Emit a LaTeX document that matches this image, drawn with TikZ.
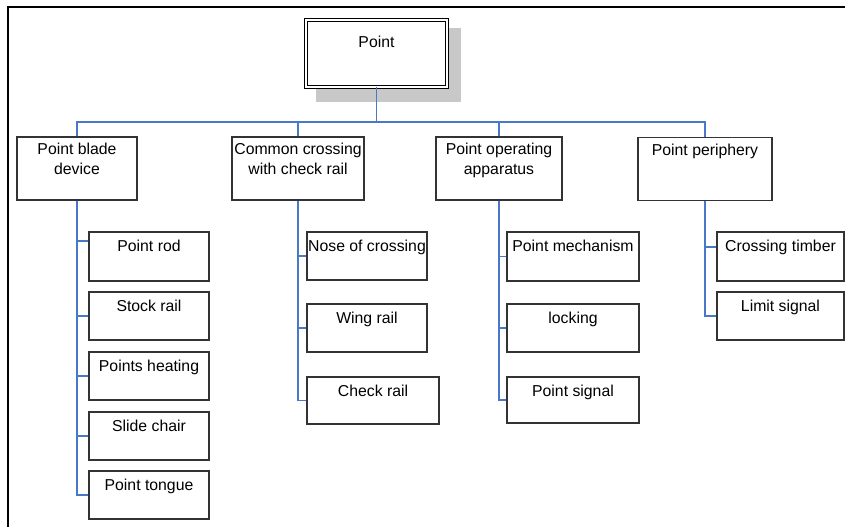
\documentclass[tikz,border=0pt]{standalone}
\usepackage{fontspec}
\setmainfont{Liberation Sans}
\definecolor{conncol}{HTML}{4A78C8}
\definecolor{boxcol}{HTML}{333333}
\definecolor{shadowcol}{HTML}{C8C8C8}
\tikzset{
  box/.style={draw=boxcol, line width=1.1pt, fill=white, inner sep=0pt, minimum width=#1},
  txt/.style={anchor=north, inner sep=0pt, align=center, font=\fontsize{15.8}{19.5}\selectfont},
  conn/.style={draw=conncol, line width=1.1pt},
  frame/.style={draw=black, line width=2pt},
}
\begin{document}
\begin{tikzpicture}[x=1pt,y=-1pt]
\useasboundingbox (0,0) rectangle (845,527);
% frame
\draw[frame] (845,7) -- (8,7) -- (8,527);
% top node with shadow
\fill[shadowcol] (316,28) rectangle (461,102);
\node[draw=black, line width=0.8pt, double, double distance=1.6pt, fill=white, inner sep=0pt,
      minimum width=141, minimum height=67,
      label={[txt, yshift=-16.5pt]north:Point}] (pt) at (376.5,53.5) {};
% level 1
\node[box=120, minimum height=63, label={[txt, yshift=-6.5pt]north:Point blade\\device}] (pb) at (77,168.5) {};
\node[box=132, minimum height=63, label={[txt, yshift=-6.5pt]north:Common crossing\\with check rail}] (cc) at (298,168.5) {};
\node[box=126, minimum height=63, label={[txt, yshift=-6.5pt]north:Point operating\\apparatus}] (po) at (499,168.5) {};
\node[box=134, minimum height=63, label={[txt, yshift=-6.5pt]north:Point periphery}] (pp) at (705,169) {};
% Point blade children
\node[box=120, minimum height=49, label={[txt, yshift=-8.5pt]north:Point rod}] (prod) at (149,256.5) {};
\node[box=120, minimum height=48, label={[txt, yshift=-8.5pt]north:Stock rail}] (sr) at (149,316) {};
\node[box=120, minimum height=48, label={[txt, yshift=-8.5pt]north:Points heating}] (ph) at (149,376) {};
\node[box=120, minimum height=48, label={[txt, yshift=-8.5pt]north:Slide chair}] (sc) at (149,436) {};
\node[box=120, minimum height=48, label={[txt, yshift=-8.5pt]north:Point tongue}] (ptg) at (149,495) {};
% Common crossing children
\node[box=120, minimum height=48, label={[txt, yshift=-8.5pt]north:Nose of crossing}] (nose) at (367,256) {};
\node[box=120, minimum height=48, label={[txt, yshift=-8.5pt]north:Wing rail}] (wing) at (367,328) {};
\node[box=132, minimum height=47, label={[txt, yshift=-8.5pt]north:Check rail}] (chk) at (373,400.5) {};
% Point operating children
\node[box=132, minimum height=49, label={[txt, yshift=-8.5pt]north:Point mechanism}] (pm) at (573,256.5) {};
\node[box=132, minimum height=48, label={[txt, yshift=-8.5pt]north:locking}] (lock) at (573,328) {};
\node[box=132, minimum height=46, label={[txt, yshift=-8.5pt]north:Point signal}] (ps) at (573,400) {};
% Point periphery children
\node[box=127, minimum height=49, label={[txt, yshift=-8.5pt]north:Crossing timber}] (ct) at (780.5,256.5) {};
\node[box=127, minimum height=48, label={[txt, yshift=-8.5pt]north:Limit signal}] (ls) at (780.5,316) {};
% connectors: top bus
\coordinate (bus) at (376.5,122);
\draw[conn] (pt.south) -- (bus);
\draw[conn] (pb.north) |- (bus) -| (pp.north);
\draw[conn] (cc.north) -- (cc.north |- bus);
\draw[conn] (po.north) -- (po.north |- bus);
% Point blade branch
\coordinate (prodin) at ([yshift=15.5pt]prod.west);
\draw[conn] (pb.south) |- (ptg.west);
\draw[conn] (pb.south |- prodin) -- (prodin);
\draw[conn] (pb.south |- sr.west) -- (sr.west);
\draw[conn] (pb.south |- ph.west) -- (ph.west);
\draw[conn] (pb.south |- sc.west) -- (sc.west);
% Common crossing branch
\draw[conn] (cc.south) |- (chk.west);
\draw[conn] (cc.south |- nose.west) -- (nose.west);
\draw[conn] (cc.south |- wing.west) -- (wing.west);
% Point operating branch
\draw[conn] (po.south) |- (ps.west);
\draw[conn] (po.south |- pm.west) -- (pm.west);
\draw[conn] (po.south |- lock.west) -- (lock.west);
% Point periphery branch
\coordinate (ctin) at ([yshift=9.5pt]ct.west);
\draw[conn] (pp.south) |- (ls.west);
\draw[conn] (pp.south |- ctin) -- (ctin);
\end{tikzpicture}
\end{document}
